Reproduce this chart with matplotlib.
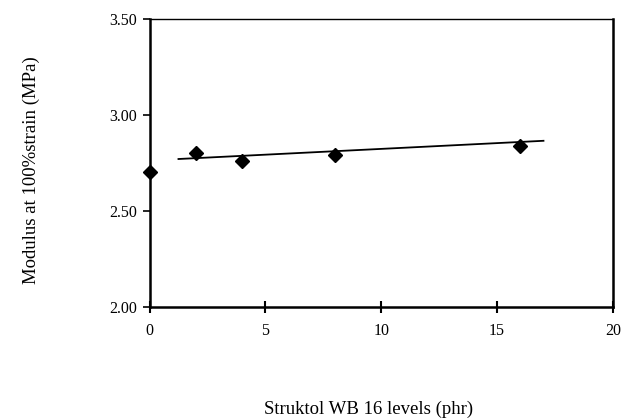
import matplotlib

matplotlib.use("Agg")
import matplotlib.pyplot as plt  # noqa: E402

# Struktol WB 16 loading vs. modulus at 100% strain
levels_phr = [0, 2, 4, 8, 16]
modulus_mpa = [2.70, 2.80, 2.76, 2.79, 2.84]

# linear trend line drawn over the filled compounds
trend_x = [1.25, 17.0]
trend_y = [2.77, 2.865]

x_ticks = [0, 5, 10, 15, 20]
y_ticks = [2.00, 2.50, 3.00, 3.50]

plt.rcParams["font.family"] = ["Liberation Serif", "DejaVu Serif"]

W, H = 625, 419
dpi = 100.0
fig = plt.figure(figsize=(W / dpi, H / dpi), dpi=dpi)
ax = fig.add_axes((149.5 / W, 1 - 306.7 / H, (613 - 149.5) / W, (306.7 - 19) / H))

ax.plot(trend_x, trend_y, color="black", linewidth=1.3, zorder=2)
ax.plot(levels_phr, modulus_mpa, linestyle="none", marker="D", markersize=7,
        color="black", clip_on=False, zorder=3)

ax.set_xlim(0, 20)
ax.set_ylim(2.0, 3.5)
ax.set_xticks(x_ticks)
ax.set_yticks(y_ticks)
ax.set_yticklabels([f"{v:.2f}" for v in y_ticks])

for side in ("left", "bottom", "right"):
    ax.spines[side].set_linewidth(1.8)
ax.spines["top"].set_linewidth(1.0)

ax.tick_params(axis="x", direction="inout", length=8, width=1.5, labelsize=11.5, pad=8)
ax.tick_params(axis="y", direction="out", length=5, width=1.2, labelsize=11.5, pad=4)

fig.text(31 / W, 1 - 170 / H, "Modulus at 100%strain (MPa)", rotation=90,
         ha="center", va="center", fontsize=13.5)
fig.text(369 / W, 1 - 409 / H, "Struktol WB 16 levels (phr)",
         ha="center", va="center", fontsize=13.5)

fig.savefig("out.png", dpi=dpi)
